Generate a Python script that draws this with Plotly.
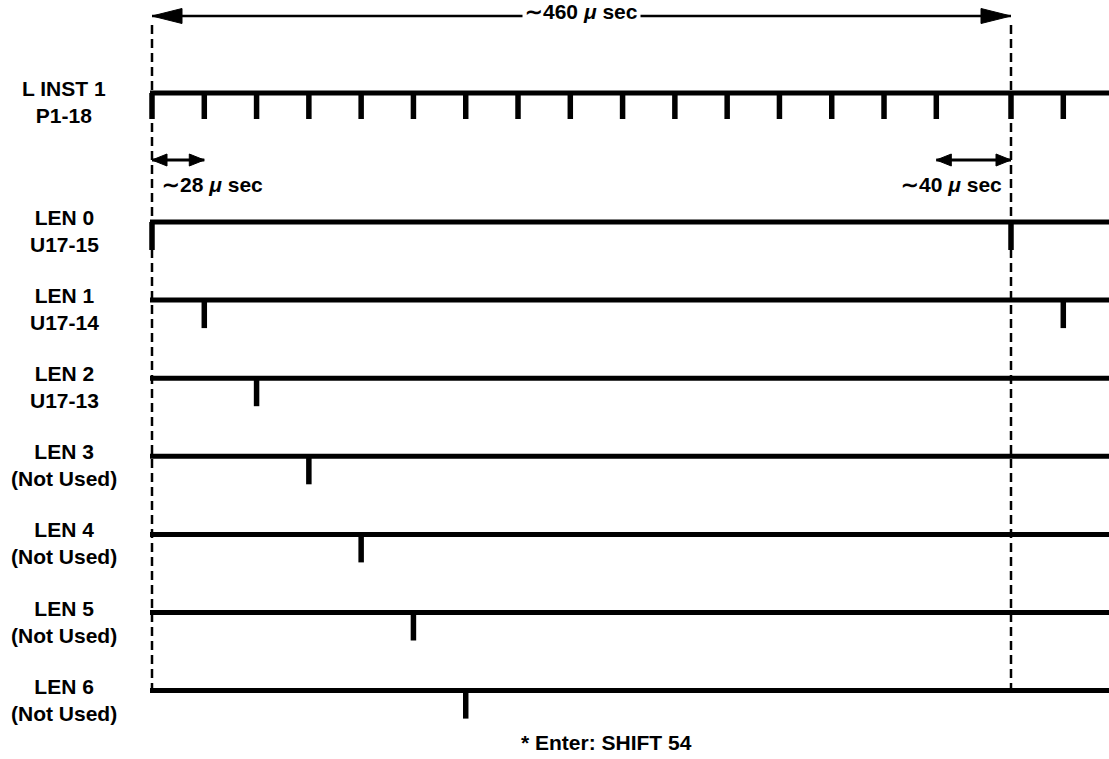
import plotly.graph_objects as go

# ---------------- data ----------------
row_labels = [
    "L INST 1<br>P1-18",
    "LEN 0<br>U17-15",
    "LEN 1<br>U17-14",
    "LEN 2<br>U17-13",
    "LEN 3<br>(Not Used)",
    "LEN 4<br>(Not Used)",
    "LEN 5<br>(Not Used)",
    "LEN 6<br>(Not Used)",
]
# pulse times in microseconds
clock_pulses = [0, 28, 56, 84, 112, 140, 168, 196, 224, 252, 280, 308, 336, 364, 392, 420, 460, 488]
len0_pulses = [0, 460]
len1_pulses = [28, 488]
len2_pulses = [56]
len3_pulses = [84]
len4_pulses = [112]
len5_pulses = [140]
len6_pulses = [168]
frame_marks = [0, 460]
span_starts = [0, 0, 420]
span_ends = [460, 28, 460]
span_texts = ["\u223c460 <i>\u03bc</i> sec", "\u223c28 <i>\u03bc</i> sec", "\u223c40 <i>\u03bc</i> sec"]
footnote = "* Enter: SHIFT 54"

# ---------------- layout helpers ----------------
W, H = 1109, 759
X0_PX = 152.0
PX_PER_US = (1011.0 - 152.0) / 460.0


def t_of(px):
    return (px - X0_PX) / PX_PER_US


def us(px_len):
    return px_len / PX_PER_US


row_y = [93.0] + [222.0 + 78.1 * i for i in range(7)]
pulse_sets = [clock_pulses, len0_pulses, len1_pulses, len2_pulses,
              len3_pulses, len4_pulses, len5_pulses, len6_pulses]
pulse_depth = [26] + [28] * 7

FONT = dict(family="Liberation Sans, Arial, sans-serif", size=21, color="black", weight="bold")

fig = go.Figure()

# baselines
bx, by = [], []
for y in row_y:
    bx += [t_of(150), t_of(W + 10), None]
    by += [y, y, None]
fig.add_trace(go.Scatter(x=bx, y=by, mode="lines", line=dict(color="black", width=5),
                         hoverinfo="skip", showlegend=False))

# pulses
px_, py_ = [], []
for y, pulses, d in zip(row_y, pulse_sets, pulse_depth):
    for t in pulses:
        px_ += [t, t, None]
        py_ += [y, y + d, None]
fig.add_trace(go.Scatter(x=px_, y=py_, mode="lines", line=dict(color="black", width=5.5),
                         hoverinfo="skip", showlegend=False))

# dashed frame markers
dx, dy = [], []
for t in frame_marks:
    dx += [t, t, None]
    dy += [25, row_y[-1], None]
fig.add_trace(go.Scatter(x=dx, y=dy, mode="lines",
                         line=dict(color="black", width=2.5, dash="9px,5px"),
                         hoverinfo="skip", showlegend=False))

shapes = []
annotations = []


def arrow_head(tip_t, direction, y, length_px, half_px):
    base = tip_t - direction * us(length_px)
    return dict(type="path", xref="x", yref="y",
                path=f"M {tip_t},{y} L {base},{y - half_px} L {base},{y + half_px} Z",
                fillcolor="black", line=dict(color="black", width=1))


# big span arrow at top
y_top = 16
shapes.append(dict(type="line", xref="x", yref="y", x0=span_starts[0], x1=span_ends[0],
                   y0=y_top, y1=y_top, line=dict(color="black", width=2.5)))
shapes.append(arrow_head(span_starts[0], -1, y_top, 30, 7.5))
shapes.append(arrow_head(span_ends[0], 1, y_top, 30, 7.5))
annotations.append(dict(x=t_of(581), y=11, xref="x", yref="y", text=span_texts[0],
                        showarrow=False, font=FONT, bgcolor="white", borderpad=2,
                        xanchor="center", yanchor="middle"))

# small span arrows
y_small = 160
for s, e in zip(span_starts[1:], span_ends[1:]):
    shapes.append(dict(type="line", xref="x", yref="y", x0=s, x1=e, y0=y_small, y1=y_small,
                       line=dict(color="black", width=3)))
    shapes.append(arrow_head(s, -1, y_small, 15, 6))
    shapes.append(arrow_head(e, 1, y_small, 15, 6))
annotations.append(dict(x=t_of(160), y=184, xref="x", yref="y", text=span_texts[1],
                        showarrow=False, font=FONT, xanchor="left", yanchor="middle"))
annotations.append(dict(x=t_of(1004), y=184, xref="x", yref="y", text=span_texts[2],
                        showarrow=False, font=FONT, xanchor="right", yanchor="middle"))

# row labels
for lab, y in zip(row_labels, row_y):
    annotations.append(dict(x=t_of(64), y=y + 9, xref="x", yref="y", text=lab,
                            showarrow=False, font=FONT, align="center",
                            xanchor="center", yanchor="middle"))

# footnote
annotations.append(dict(x=t_of(519), y=742, xref="x", yref="y", text=footnote,
                        showarrow=False, font=FONT, xanchor="left", yanchor="middle"))

fig.update_layout(
    width=W, height=H,
    margin=dict(l=0, r=0, t=0, b=0),
    paper_bgcolor="white", plot_bgcolor="white",
    xaxis=dict(range=[t_of(0), t_of(W)], visible=False, fixedrange=True),
    yaxis=dict(range=[H, 0], visible=False, fixedrange=True),
    shapes=shapes, annotations=annotations, showlegend=False,
)

fig.write_html(
    "out.html",
    config={"displayModeBar": False},
    post_script="document.body.style.margin='0';document.body.style.overflow='hidden';",
)
